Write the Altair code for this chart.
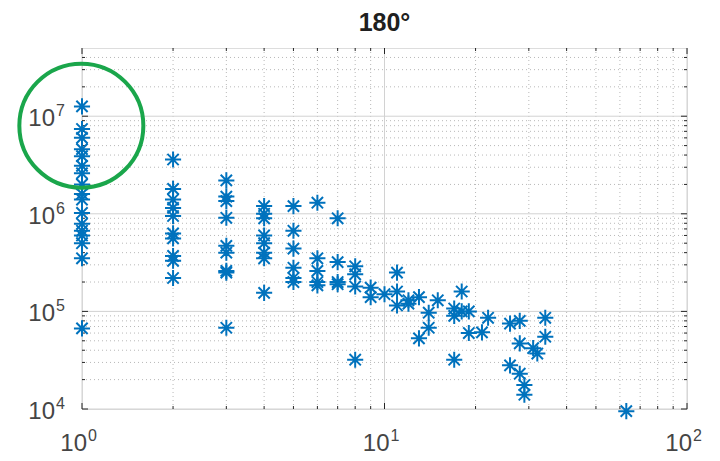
import altair as alt
import pandas as pd

# ---- data ----
x_vals = (
    [1] * 17
    + [2] * 10
    + [3] * 9
    + [4] * 8
    + [5] * 6
    + [6] * 5
    + [7] * 4
    + [8] * 4
    + [9] * 2
    + [10]
    + [11] * 3
    + [12] * 2
    + [13] * 2
    + [14] * 2
    + [15]
    + [17] * 3
    + [18] * 2
    + [19] * 2
    + [21, 22]
    + [26] * 2
    + [28] * 3
    + [29] * 2
    + [31, 32]
    + [34] * 2
    + [63]
)
y_vals = [
    # x = 1
    1.26e7, 7.4e6, 6.0e6, 4.6e6, 3.9e6, 3.1e6, 2.6e6, 2.0e6, 1.6e6, 1.4e6,
    1.02e6, 7.9e5, 6.7e5, 6.0e5, 5.0e5, 3.5e5, 6.7e4,
    # x = 2
    3.6e6, 1.8e6, 1.4e6, 1.15e6, 9.5e5, 6.3e5, 5.6e5, 3.7e5, 3.3e5, 2.2e5,
    # x = 3
    2.2e6, 1.5e6, 1.35e6, 9.1e5, 4.7e5, 4.0e5, 2.6e5, 2.5e5, 6.8e4,
    # x = 4
    1.2e6, 1.0e6, 9.0e5, 6.0e5, 5.0e5, 4.0e5, 3.5e5, 1.55e5,
    # x = 5
    1.2e6, 6.7e5, 4.4e5, 2.8e5, 2.2e5, 2.0e5,
    # x = 6
    1.3e6, 3.5e5, 2.6e5, 2.0e5, 1.85e5,
    # x = 7
    9.0e5, 3.2e5, 2.0e5, 1.9e5,
    # x = 8
    2.9e5, 2.4e5, 1.8e5, 3.2e4,
    # x = 9
    1.75e5, 1.4e5,
    # x = 10
    1.5e5,
    # x = 11
    2.5e5, 1.6e5, 1.15e5,
    # x = 12
    1.2e5, 1.3e5,
    # x = 13
    1.4e5, 5.3e4,
    # x = 14
    9.7e4, 6.8e4,
    # x = 15
    1.3e5,
    # x = 17
    1.07e5, 3.2e4, 9.0e4,
    # x = 18
    1.6e5, 1.0e5,
    # x = 19
    1.0e5, 6.0e4,
    # x = 21, 22
    6.1e4, 8.6e4,
    # x = 26
    7.5e4, 2.8e4,
    # x = 28
    8.0e4, 4.7e4, 2.3e4,
    # x = 29
    1.76e4, 1.4e4,
    # x = 31, 32
    4.2e4, 3.7e4,
    # x = 34
    8.6e4, 5.5e4,
    # x = 63
    9.5e3,
]

title_text = "180°"
x_decades = [1, 10, 100]
x_exponents = ["0", "1", "2"]
y_decades = [1e4, 1e5, 1e6, 1e7]
y_exponents = ["4", "5", "6", "7"]
x_minor = [2, 3, 4, 5, 6, 7, 8, 9, 20, 30, 40, 50, 60, 70, 80, 90]
y_minor = [m * d for d in [1e4, 1e5, 1e6] for m in range(2, 10)] + [2e7, 3e7, 4e7]
highlight_x = [0.995]
highlight_y = [8.0e6]

W, H = 605, 361
FONT = "Liberation Sans"
TXT = "#454545"
BLUE = "#0072BD"

xs = alt.Scale(type="log", domain=[1, 100], nice=False)
ys = alt.Scale(type="log", domain=[1e4, 5e7], nice=False)

pts = pd.DataFrame({"x": x_vals, "y": y_vals})
xmin = pd.DataFrame({"v": x_minor})
ymin = pd.DataFrame({"v": y_minor})
xmaj = pd.DataFrame({"v": x_decades, "e": x_exponents, "b": ["10"] * 3})
ymaj = pd.DataFrame({"v": y_decades, "e": y_exponents, "b": ["10"] * 4})
hl = pd.DataFrame({"x": highlight_x, "y": highlight_y})

# grids
gx_minor = alt.Chart(xmin).mark_rule(color="#b8b8b8", strokeDash=[1, 3], strokeWidth=1).encode(
    x=alt.X("v:Q", scale=xs, axis=None), y=alt.value(0), y2=alt.value(H))
gy_minor = alt.Chart(ymin).mark_rule(color="#b8b8b8", strokeDash=[1, 3], strokeWidth=1).encode(
    y=alt.Y("v:Q", scale=ys, axis=None), x=alt.value(0), x2=alt.value(W))
gx_major = alt.Chart(xmaj).mark_rule(color="#d2d2d2", strokeWidth=1).encode(
    x=alt.X("v:Q", scale=xs, axis=None), y=alt.value(0), y2=alt.value(H))
gy_major = alt.Chart(ymaj).mark_rule(color="#d2d2d2", strokeWidth=1).encode(
    y=alt.Y("v:Q", scale=ys, axis=None), x=alt.value(0), x2=alt.value(W))

# inward ticks on all four sides
tick_col = "#262626"
def xticks(df, length):
    b = alt.Chart(df).mark_rule(color=tick_col, strokeWidth=1).encode(
        x=alt.X("v:Q", scale=xs, axis=None), y=alt.value(H), y2=alt.value(H - length))
    t = alt.Chart(df).mark_rule(color=tick_col, strokeWidth=1).encode(
        x=alt.X("v:Q", scale=xs, axis=None), y=alt.value(0), y2=alt.value(length))
    return [b, t]

def yticks(df, length):
    l = alt.Chart(df).mark_rule(color=tick_col, strokeWidth=1).encode(
        y=alt.Y("v:Q", scale=ys, axis=None), x=alt.value(0), x2=alt.value(length))
    r = alt.Chart(df).mark_rule(color=tick_col, strokeWidth=1).encode(
        y=alt.Y("v:Q", scale=ys, axis=None), x=alt.value(W), x2=alt.value(W - length))
    return [l, r]

ticks = xticks(xmaj, 6) + xticks(xmin, 3) + yticks(ymaj, 6) + yticks(ymin, 3)

# data points (MATLAB asterisk)
star = "M-1,0L1,0M0,-1L0,1M-0.7,-0.7L0.7,0.7M-0.7,0.7L0.7,-0.7"
points = alt.Chart(pts).mark_point(
    shape=star, filled=False, color=BLUE, strokeWidth=2, size=260, opacity=1
).encode(x=alt.X("x:Q", scale=xs, axis=None), y=alt.Y("y:Q", scale=ys, axis=None))

# green highlight circle
circle = alt.Chart(hl).mark_point(
    shape="circle", filled=False, color="#1aa64b", strokeWidth=4, size=124 * 124, opacity=1
).encode(x=alt.X("x:Q", scale=xs, axis=None), y=alt.Y("y:Q", scale=ys, axis=None))

# tick labels as 10 + superscript
xl_base = alt.Chart(xmaj).mark_text(font=FONT, fontSize=24, color=TXT, align="right",
                                    baseline="middle", dx=5).encode(
    x=alt.X("v:Q", scale=xs, axis=None), y=alt.value(H + 35), text="b:N")
xl_exp = alt.Chart(xmaj).mark_text(font=FONT, fontSize=16, color=TXT, align="left",
                                   baseline="middle", dx=6).encode(
    x=alt.X("v:Q", scale=xs, axis=None), y=alt.value(H + 27), text="e:N")
yl_base = alt.Chart(ymaj).mark_text(font=FONT, fontSize=24, color=TXT, align="right",
                                    baseline="middle", dy=3).encode(
    y=alt.Y("v:Q", scale=ys, axis=None), x=alt.value(-27), text="b:N")
yl_exp = alt.Chart(ymaj).mark_text(font=FONT, fontSize=16, color=TXT, align="left",
                                   baseline="middle", dy=-5).encode(
    y=alt.Y("v:Q", scale=ys, axis=None), x=alt.value(-26), text="e:N")

chart = alt.layer(
    gx_minor, gy_minor, gx_major, gy_major, *ticks, points, circle,
    xl_base, xl_exp, yl_base, yl_exp
).properties(
    width=W, height=H,
    title=alt.TitleParams(title_text, font=FONT, fontSize=25, fontWeight="bold",
                          color="#202020", anchor="middle", offset=12),
    autosize=alt.AutoSizeParams(type="none"),
    padding={"left": 82, "top": 48, "right": 33, "bottom": 52},
).configure_view(stroke="#262626", strokeWidth=1.3).configure(background="white")

chart.save("out.html", embed_options={"renderer": "svg", "actions": False})
